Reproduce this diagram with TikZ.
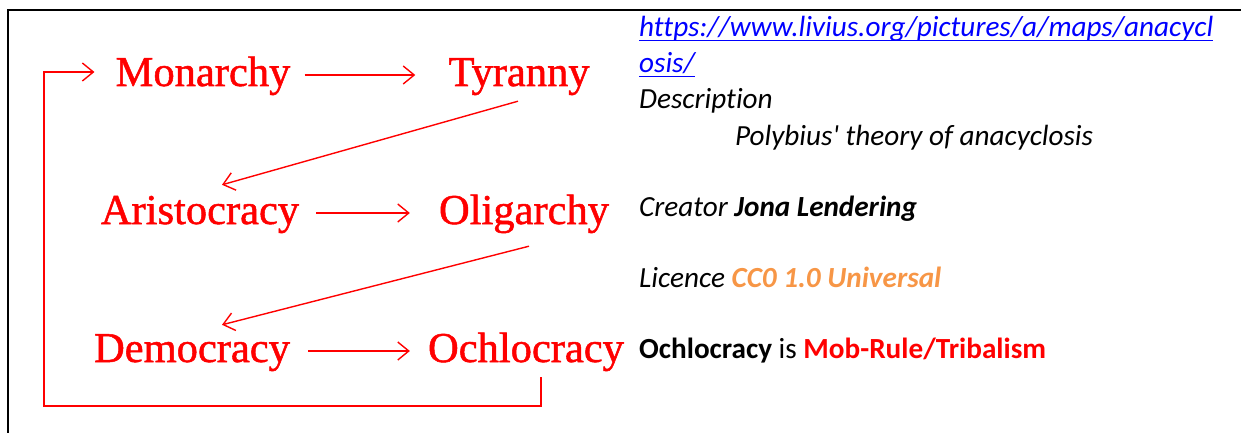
\documentclass[tikz,border=0pt]{standalone}
\usepackage{fontspec}
\setmainfont{Liberation Serif}
\newfontfamily\regimefont{Liberation Serif}[FakeBold=1.2]
\newfontfamily\calibri{Carlito}[Ligatures=NoCommon]
\usetikzlibrary{arrows.meta}
\definecolor{licorange}{RGB}{247,150,70}
\definecolor{linkblue}{RGB}{0,0,255}
\newcommand{\linkul}[1]{\setbox0\hbox{#1}\rlap{\rule[-4pt]{\wd0}{1.3pt}}\box0}

\begin{document}
\begin{tikzpicture}[x=1pt, y=-1pt,
    regime/.style={text=red, font=\regimefont\fontsize{42.5}{46}\selectfont, inner sep=0pt,
      text height=30pt, text depth=8pt, anchor=base},
    flow/.style={draw=red, line width=1.4pt, -{Straight Barb[length=11pt,width=18pt]}},
    info/.style={font=\calibri\fontsize{29.2}{35}\selectfont, inner sep=0pt, anchor=base west}
  ]
  \useasboundingbox (0,0) rectangle (1241,433);
  \draw[line width=1.5pt] (8,433) -- (8,10) -- (1241,10);

  % the cycle
  \node[regime] (mon) at (203,86) {Monarchy};
  \node[regime] (tyr) at (519,86) {Tyranny};
  \node[regime] (ari) at (200,224) {Aristocracy};
  \node[regime] (oli) at (524,224) {Oligarchy};
  \node[regime] (dem) at (192,362) {Democracy};
  \node[regime] (och) at (526,362) {Ochlocracy};
  \coordinate (loop) at (44,406);

  \draw[flow, shorten <=14pt, shorten >=33pt] (mon) -- (tyr);
  \draw[flow, shorten <=17pt, shorten >=29pt] (ari) -- (oli);
  \draw[flow, shorten <=18pt, shorten >=18pt] (dem) -- (och);
  \draw[flow] ([shift={(-1,7)}]tyr.south) -- ([shift={(22,-9)}]ari.north);
  \draw[flow] ([shift={(5,14)}]oli.south) -- ([shift={(30,-7)}]dem.north);
  \draw[flow] ([shift={(15,7)}]och.south) |- (loop) |- ([shift={(-21,-3)}]mon.west);

  % source notes
  \node[info] (url1) at (639,37) {\itshape\color{linkblue}\linkul{https://www.livius.org/pictures/a/maps/anacycl}};
  \node[info] (url2) at (639,73) {\itshape\color{linkblue}\linkul{osis/}};
  \node[info] (desc) at (639,109) {\itshape Description};
  \node[info] (title) at (735,145) {\itshape Polybius' theory of anacyclosis};
  \node[info] (creator) at (639,216) {\itshape Creator \bfseries Jona Lendering};
  \node[info] (licence) at (639,287) {\itshape Licence \bfseries\color{licorange}CC0 1.0 Universal};
  \node[info] (note) at (639,358) {\bfseries Ochlocracy \mdseries is \bfseries\color{red}Mob-Rule/Tribalism};
\end{tikzpicture}
\end{document}
